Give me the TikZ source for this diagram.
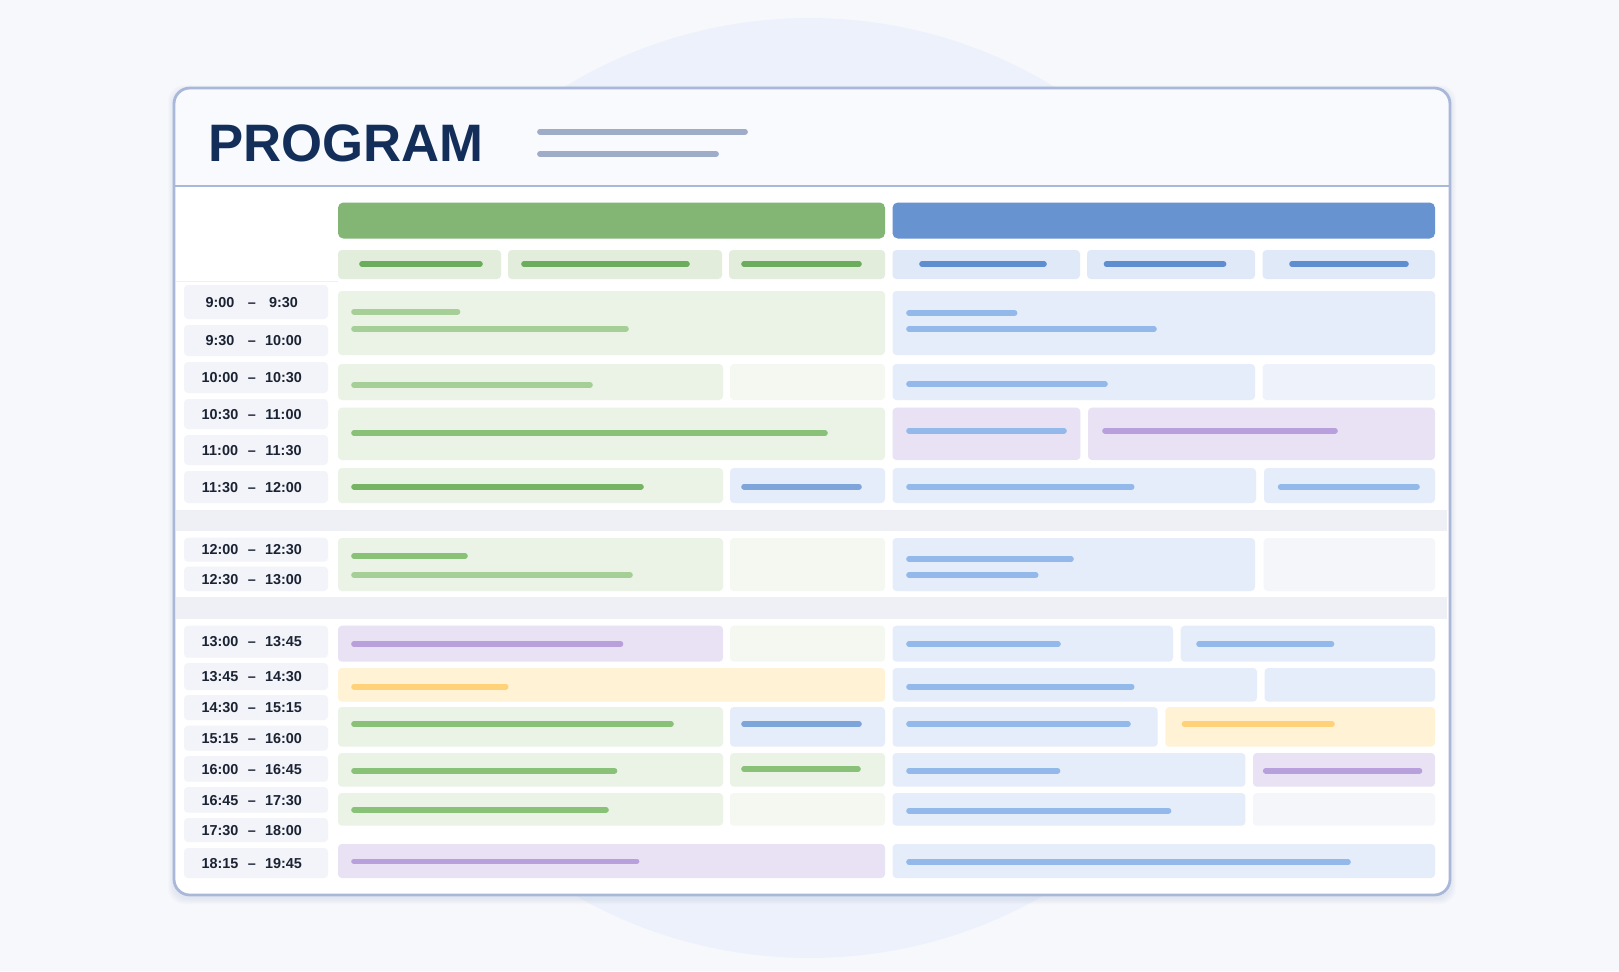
\documentclass[tikz,border=0pt]{standalone}
\usepackage{fontspec}
\setmainfont{Liberation Sans}
\usepackage{xcolor}
\definecolor{bgcol}{HTML}{F6F8FC}
\definecolor{circcol}{HTML}{ECF1FB}
\definecolor{cardline}{HTML}{A9B8D9}
\definecolor{headfill}{HTML}{F8FAFE}
\definecolor{navy}{HTML}{132F59}
\definecolor{hdrline}{HTML}{9EACC8}
\definecolor{gbar}{HTML}{83B575}
\definecolor{bbar}{HTML}{6793D0}
\definecolor{gsub}{HTML}{E2EEDB}
\definecolor{gsubline}{HTML}{6BAD5D}
\definecolor{bsub}{HTML}{DFE9F7}
\definecolor{bsubline}{HTML}{5E8ED0}
\definecolor{gcell}{HTML}{EAF3E5}
\definecolor{gpale}{HTML}{F4F8F1}
\definecolor{bcell}{HTML}{E5EDFA}
\definecolor{bpale}{HTML}{EDF2FB}
\definecolor{wpale}{HTML}{F5F6FA}
\definecolor{pcell}{HTML}{E8E2F4}
\definecolor{ycell}{HTML}{FFF2D5}
\definecolor{gline1}{HTML}{A6CF97}
\definecolor{gline2}{HTML}{89C178}
\definecolor{gline3}{HTML}{76B464}
\definecolor{bline}{HTML}{93B8EA}
\definecolor{bline2}{HTML}{7EA5DA}
\definecolor{pline}{HTML}{B8A0DC}
\definecolor{yline}{HTML}{FFD27A}
\definecolor{timebox}{HTML}{F2F4F9}
\definecolor{band}{HTML}{EEF0F5}
\definecolor{timetext}{HTML}{1B2333}

\begin{document}
\begin{tikzpicture}[x=0.02cm, y=-0.02cm,
    cell/.style={rounded corners=2.2pt},
    bar/.style={line width=3.2pt, line cap=round},
    timetxt/.style={inner sep=0pt, text height=5.9pt, text depth=0pt, text=timetext, font=\fontsize{8.2}{10}\selectfont\bfseries}
]
    \useasboundingbox (0,0) rectangle (1619,971);
    \fill[bgcol] (0,0) rectangle (1619,971);
    \fill[circcol] (809.5,488) circle[radius=9.4cm];

    \foreach \i in {1,...,6}
        \fill[cardline, opacity=0.04, rounded corners=9pt] (174-\i,88-\i+3) rectangle (1450+\i,895+\i+3);
    \fill[white, rounded corners=9pt] (174,88) rectangle (1450,895);
    \begin{scope}
        \clip[rounded corners=9pt] (174,88) rectangle (1450,895);
        \fill[headfill] (174,88) rectangle (1450,186);
    \end{scope}
    \draw[cardline, line width=1.2pt] (174,186) -- (1450,186);
    \draw[cardline, line width=1.6pt, rounded corners=9pt] (174,88) rectangle (1450,895);

    \node[anchor=base west, inner sep=0pt, text=navy, font=\fontsize{30}{36}\selectfont\bfseries] (title) at (208,161) {PROGRAM};
    \draw[hdrline, line width=3.3pt, line cap=round] (540,131.7) -- (745,131.7);
    \draw[hdrline, line width=3.3pt, line cap=round] (540,154) -- (716,154);

    \draw[band, line width=0.8pt] (176,281.7) -- (338,281.7);
    \fill[band] (176,510) rectangle (1447,531);
    \fill[band] (176,596.7) rectangle (1447,619);

    \fill[gbar, rounded corners=3pt] (338,202.5) rectangle (885,238.5);
    \fill[bbar, rounded corners=3pt] (892.5,202.5) rectangle (1435,238.5);

    \foreach \col/\xa/\ya/\xb/\yb in {
        gsub/338/250/501/279, gsub/508/250/722/279, gsub/729/250/885/279,
        bsub/892.5/250/1080/279, bsub/1087/250/1255/279, bsub/1262.6/250/1435/279,
        gcell/338/291/885/355, bcell/892.5/291/1435/355,
        gcell/338/364/723/400, gpale/730/364/885/400, bcell/892.5/364/1255/400, bpale/1262.6/364/1435/400,
        gcell/338/407.7/885/460, pcell/892.5/407.7/1080.4/460, pcell/1088/407.7/1435/460,
        gcell/338/468/723/503, bcell/730/468/885/503, bcell/892.5/468/1256/503, bcell/1264/468/1435/503,
        gcell/338/538/723/591, gpale/730/538/885/591, bcell/892.5/538/1255/591, wpale/1263.7/538/1435/591,
        pcell/338/625.7/723/661.7, gpale/730/625.7/885/661.7, bcell/892.5/625.7/1173/661.7, bcell/1180.7/625.7/1435/661.7,
        ycell/338/668/885/701.7, bcell/892.5/668/1257/701.7, bcell/1264.5/668/1435/701.7,
        gcell/338/707/723/746.7, bcell/730/707/885/746.7, bcell/892.5/707/1157.7/746.7, ycell/1165.4/707/1435/746.7,
        gcell/338/753/723/786.7, gcell/730/753/885/786.7, bcell/892.5/753/1245.4/786.7, pcell/1253/753/1435/786.7,
        gcell/338/793/723/825.7, gpale/730/793/885/825.7, bcell/892.5/793/1245.4/825.7, wpale/1253/793/1435/825.7,
        pcell/338/844/885/878, bcell/892.5/844/1435/878}
        \fill[fill=\col, cell] (\xa,\ya) rectangle (\xb,\yb);

    \foreach \col/\xa/\xb/\y in {
        gsubline/362/480/264, gsubline/524/687/264, gsubline/744/859/264,
        bsubline/922/1044/264, bsubline/1106.5/1223.6/264, bsubline/1292/1406/264,
        gline1/354/457.5/311.7, gline1/354/626/328.7, bline/909/1014.6/313, bline/909/1154/329,
        gline1/354/590/385, bline/909/1105/384,
        gline2/354/825/433, bline/909/1064/430.7, pline/1105/1335/430.7,
        gline3/354/641/486.7, bline2/744/859/486.7, bline/909/1131.7/486.7, bline/1280.6/1417/486.7,
        gline2/354/465/556, gline1/354/630/575, bline/909/1071/559, bline/909/1035.7/575,
        pline/354/620.5/644, bline/909/1058/644, bline/1199/1331.5/644,
        yline/354/505.7/686.7, bline/909/1131.7/686.7,
        gline2/354/671/724, bline2/744/859/724, bline/909/1128/724, yline/1184.5/1332/724,
        gline2/354/614.5/770.7, gline2/744/858/769, bline/909/1057.5/770.7, pline/1265.7/1419.5/770.7,
        gline2/354/606/809.7, bline/909/1168.5/810.7,
        pline/354/636.6/861.3, bline/909/1348/862}
        \draw[bar, draw=\col] (\xa,\y) -- (\xb,\y);

    \foreach \a/\b/\ya/\yb [count=\n] in {
        9:00/9:30/285/319, 9:30/10:00/325/356, 10:00/10:30/362/393,
        10:30/11:00/399/429, 11:00/11:30/435/465, 11:30/12:00/471/503,
        12:00/12:30/537.7/561.7, 12:30/13:00/566.7/591,
        13:00/13:45/625.7/657.7, 13:45/14:30/663/690, 14:30/15:15/695/720,
        15:15/16:00/725.7/750.7, 16:00/16:45/756/781.7, 16:45/17:30/787/812.7,
        17:30/18:00/818/842, 18:15/19:45/848/878}
    {
        \fill[timebox, cell] (184,\ya) rectangle (328,\yb);
        \node[timetxt] (start\n) at (220,{(\ya+\yb)/2}) {\a};
        \node[timetxt] (dash\n) at (252,{(\ya+\yb)/2}) {–};
        \node[timetxt] (end\n) at (283.5,{(\ya+\yb)/2}) {\b};
    }
\end{tikzpicture}
\end{document}
